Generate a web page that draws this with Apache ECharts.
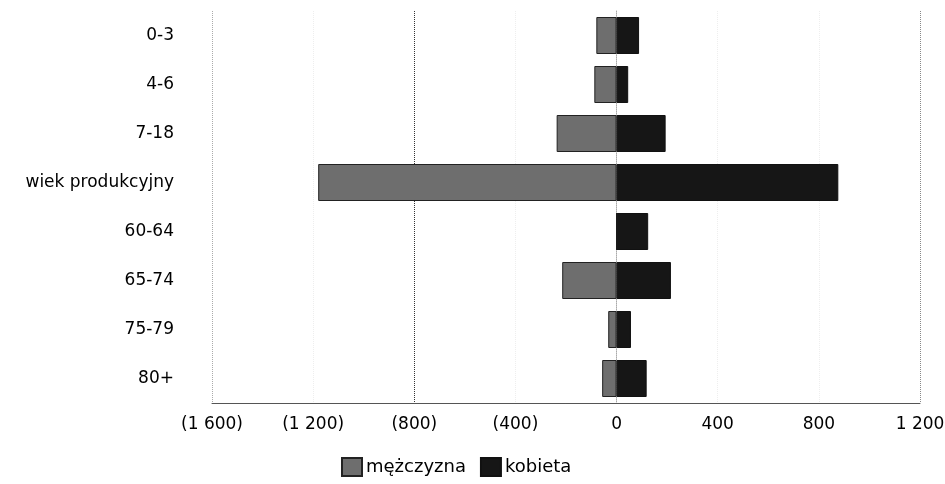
<!DOCTYPE html>
<html>
<head>
<meta charset="utf-8">
<script src="https://cdn.jsdelivr.net/npm/echarts@6/dist/echarts.min.js"></script>
<style>
    html, body { margin: 0; padding: 0; background: #fff; }
    #chart { width: 945px; height: 484px; }
</style>
</head>
<body>
<div id="chart"></div>
<script>
    // grupy wiekowe, od góry
    var categories = ['0-3', '4-6', '7-18', 'wiek produkcyjny', '60-64', '65-74', '75-79', '80+'];
    // mężczyźni rysowani w lewo (wartości ujemne)
    var menValues = [-80, -88, -237, -1180, 0, -215, -33, -57];
    var womenValues = [89, 46, 194, 877, 125, 215, 57, 119];
    var xTicks = { min: -1600, max: 1200, interval: 400 };

    function fmt(v) {
        var s = String(Math.abs(v)).replace(/\B(?=(\d{3})+(?!\d))/g, ' ');
        return v < 0 ? '(' + s + ')' : s;
    }

    var chart = echarts.init(document.getElementById('chart'));
    var font = 'DejaVu Sans';

    chart.setOption({
        animation: false,
        textStyle: { fontFamily: font },
        grid: { left: 212, right: 25, top: 11, bottom: 81, containLabel: false, outerBoundsMode: 'none' },
        legend: {
            left: 336,
            top: 452,
            icon: 'rect',
            itemWidth: 20,
            itemHeight: 18,
            itemGap: 14,
            textStyle: { fontFamily: font, fontSize: 18, color: '#000', padding: [0, 0, 0, -1] },
            data: ['mężczyzna', 'kobieta']
        },
        xAxis: {
            type: 'value',
            min: xTicks.min,
            max: xTicks.max,
            interval: xTicks.interval,
            axisLine: { show: true, onZero: false, lineStyle: { color: '#555', width: 1 } },
            axisTick: { show: false },
            axisLabel: { fontFamily: font, fontSize: 17, color: '#000', margin: 13, formatter: fmt },
            splitLine: {
                show: true,
                lineStyle: {
                    type: 'dotted',
                    color: ['#aaa', '#eee', '#333', '#eee', '#eee', '#eee', '#eee', '#888']
                }
            }
        },
        yAxis: {
            type: 'category',
            inverse: true,
            data: categories,
            axisLine: { show: true, lineStyle: { color: '#aaa', type: 'dotted' } },
            axisTick: { show: false },
            axisLabel: { fontFamily: font, fontSize: 17, color: '#000', margin: 38 }
        },
        series: [
            {
                name: 'mężczyzna',
                type: 'bar',
                stack: 'pop',
                barWidth: 37,
                data: menValues,
                itemStyle: { color: '#6e6e6e', borderColor: '#222', borderWidth: 1 }
            },
            {
                name: 'kobieta',
                type: 'bar',
                stack: 'pop',
                barWidth: 37,
                data: womenValues,
                itemStyle: { color: '#161616', borderColor: '#111', borderWidth: 1 }
            }
        ]
    });
</script>
</body>
</html>
